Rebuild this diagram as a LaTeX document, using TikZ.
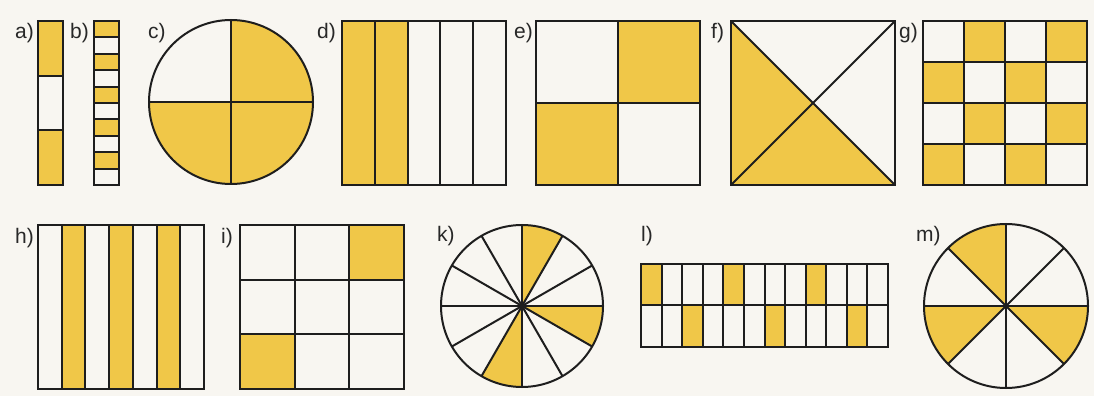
\documentclass[tikz,border=0pt]{standalone}
\usepackage{fontspec}
\setmainfont{Liberation Sans}
\definecolor{bg}{RGB}{248,246,241}
\definecolor{yel}{RGB}{240,199,72}
\definecolor{linec}{RGB}{30,30,30}
\definecolor{labc}{RGB}{40,40,40}
\begin{document}
\begin{tikzpicture}[x=1pt,y=1pt,
  ln/.style={line width=2pt, draw=linec, line join=miter},
  yf/.style={fill=yel},
  lab/.style={anchor=base west, font=\fontsize{21}{21}\selectfont, text=labc, inner sep=0pt}]
\fill[bg] (0,0) rectangle (1094,396);
\useasboundingbox (0,0) rectangle (1094,396);

% ---- a)
\fill[yf] (38,320.33) rectangle (63,375);
\fill[yf] (38,211) rectangle (63,265.67);
\draw[ln] (38,211) rectangle (63,375);
\draw[ln] (38,265.67) -- (63,265.67) (38,320.33) -- (63,320.33);
\node[lab] (la) at (15,357) {a)};

% ---- b)
\foreach \k in {0,2,4,6,8} \fill[yf] (94,{375-16.4*(\k+1)}) rectangle (119,{375-16.4*\k});
\draw[ln] (94,211) rectangle (119,375);
\foreach \k in {1,...,9} \draw[ln] (94,{375-16.4*\k}) -- (119,{375-16.4*\k});
\node[lab] (lb) at (70,357) {b)};

% ---- c)
\fill[yf] (231,294) -- (231,376) arc (90:-180:82) -- cycle;
\draw[ln] (231,294) circle (82);
\draw[ln] (149,294) -- (313,294) (231,212) -- (231,376);
\node[lab] (lc) at (148,357) {c)};

% ---- d)
\fill[yf] (342,211) rectangle (407.6,375);
\draw[ln] (342,211) rectangle (506,375);
\foreach \x in {374.8,407.6,440.4,473.2} \draw[ln] (\x,211) -- (\x,375);
\node[lab] (ld) at (317,357) {d)};

% ---- e)
\fill[yf] (618,293) rectangle (700,375);
\fill[yf] (536,211) rectangle (618,293);
\draw[ln] (536,211) rectangle (700,375);
\draw[ln] (618,211) -- (618,375) (536,293) -- (700,293);
\node[lab] (le) at (514,357) {e)};

% ---- f)
\fill[yf] (731,375) -- (813,293) -- (895,211) -- (731,211) -- cycle;
\draw[ln] (731,211) rectangle (895,375);
\draw[ln] (731,375) -- (895,211) (731,211) -- (895,375);
\node[lab] (lf) at (711,357) {f)};

% ---- g)
\foreach \r/\c in {0/1,0/3,1/0,1/2,2/1,2/3,3/0,3/2}
  \fill[yf] ({923+41*\c},{375-41*\r}) rectangle ++(41,-41);
\draw[ln] (923,211) rectangle (1087,375);
\foreach \k in {1,2,3} {
  \draw[ln] ({923+41*\k},211) -- ({923+41*\k},375);
  \draw[ln] (923,{375-41*\k}) -- (1087,{375-41*\k});
}
\node[lab] (lg) at (899,357) {g)};

% ---- h)
\foreach \k in {1,3,5} \fill[yf] ({38+23.714*\k},7) rectangle ({38+23.714*(\k+1)},171);
\draw[ln] (38,7) rectangle (204,171);
\foreach \k in {1,...,6} \draw[ln] ({38+23.714*\k},7) -- ({38+23.714*\k},171);
\node[lab] (lh) at (15,152) {h)};

% ---- i)
\fill[yf] (349.33,116.33) rectangle (404,171);
\fill[yf] (240,7) rectangle (294.67,61.67);
\draw[ln] (240,7) rectangle (404,171);
\draw[ln] (294.67,7) -- (294.67,171) (349.33,7) -- (349.33,171)
          (240,61.67) -- (404,61.67) (240,116.33) -- (404,116.33);
\node[lab] (li) at (221,152) {i)};

% ---- k)
\foreach \a in {60,-30,240}
  \fill[yf] (522,90) -- ++(\a:81) arc (\a:{\a+30}:81) -- cycle;
\foreach \a in {0,30,...,150}
  \draw[ln] (522,90) ++(\a:81) -- ++({\a+180}:162);
\draw[ln] (522,90) circle (81);
\fill[linec] (522,90) circle (2.8);
\node[lab] (lk) at (437,154) {k)};

% ---- l)
\foreach \c in {0,4,8} \fill[yf] ({641+20.583*\c},90.5) rectangle ++(20.583,41.5);
\foreach \c in {2,6,10} \fill[yf] ({641+20.583*\c},49) rectangle ++(20.583,41.5);
\draw[ln] (641,49) rectangle (888,132);
\draw[ln] (641,90.5) -- (888,90.5);
\foreach \c in {1,...,11} \draw[ln] ({641+20.583*\c},49) -- ({641+20.583*\c},132);
\node[lab] (ll) at (641,154) {l)};

% ---- m)
\foreach \a in {90,180,315}
  \fill[yf] (1006,90) -- ++(\a:82) arc (\a:{\a+45}:82) -- cycle;
\foreach \a in {0,45,90,135}
  \draw[ln] (1006,90) ++(\a:82) -- ++({\a+180}:164);
\draw[ln] (1006,90) circle (82);
\node[lab] (lm) at (916,154) {m)};
\end{tikzpicture}
\end{document}
